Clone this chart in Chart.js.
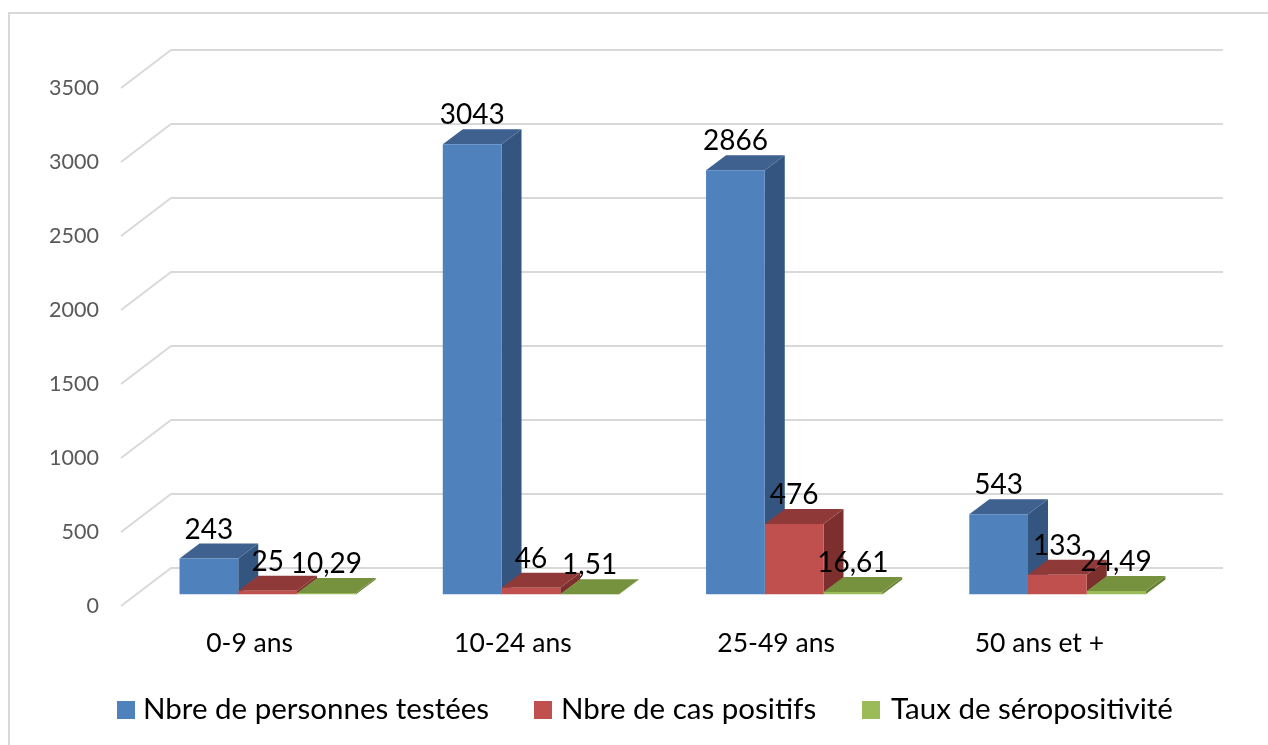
<!DOCTYPE html>
<html><head><meta charset="utf-8">
<style>html,body{margin:0;padding:0;background:#fff}canvas{display:block}</style>
<script src="https://cdn.jsdelivr.net/npm/chart.js@4"></script>
</head><body><canvas id="c" width="1268" height="745"></canvas>
<script>
const categories = ["0-9 ans","10-24 ans","25-49 ans","50 ans et +"];
const testedLabel = "Nbre de personnes testées";
const positiveLabel = "Nbre de cas positifs";
const rateLabel = "Taux de séropositivité";
const tested = [243,3043,2866,543];
const positive = [25,46,476,133];
const rate = [10.29,1.51,16.61,24.49];
const FONT = "Lato, sans-serif";
const shades = [
  {front:"#4F81BD",top:"#3E6190",side:"#34557F"},
  {front:"#C0504D",top:"#8F3A38",side:"#7D2F2E"},
  {front:"#9BBB59",top:"#77923F",side:"#6A8235"}
];
const legendBoxes = [117,534,862];
const legendTexts = [143,561,891];
const depth = {dx:20,dy:15};
const wall = {dx:35,dy:26.5,fdx:15,fdy:11.5};

const threeD = {
  id:"threeD",
  beforeDraw(ch){
    const c=ch.ctx;
    c.save();c.strokeStyle="#D9D9D9";c.lineWidth=2;
    c.beginPath();c.moveTo(9,745);c.lineTo(9,13);c.lineTo(1268,13);c.stroke();
    c.restore();
  },
  beforeDatasetsDraw(ch){
    const c=ch.ctx,a=ch.chartArea,y=ch.scales.y;
    c.save();
    c.strokeStyle="#D9D9D9";c.lineWidth=2;c.lineJoin="round";
    y.ticks.forEach(t=>{
      const p=y.getPixelForValue(t.value);
      c.beginPath();
      c.moveTo(a.left-wall.fdx,p+wall.fdy);
      c.lineTo(a.left+wall.dx,p-wall.dy);
      c.lineTo(a.right+wall.dx-1,p-wall.dy);
      c.stroke();
    });
    categories.forEach((_,i)=>{
      ch.data.datasets.forEach((d,s)=>{
        const b=ch.getDatasetMeta(s).data[i];
        const l=b.x-b.width/2,r=b.x+b.width/2,t=b.y,bt=b.base;
        c.fillStyle=shades[s].side;
        c.beginPath();c.moveTo(r,t);c.lineTo(r+depth.dx,t-depth.dy);c.lineTo(r+depth.dx,bt-depth.dy);c.lineTo(r,bt);c.closePath();c.fill();
        c.fillStyle=shades[s].top;
        c.beginPath();c.moveTo(l,t);c.lineTo(l+depth.dx,t-depth.dy);c.lineTo(r+depth.dx,t-depth.dy);c.lineTo(r,t);c.closePath();c.fill();
      });
    });
    c.restore();
  },
  afterDraw(ch){
    const c=ch.ctx;
    c.save();
    c.fillStyle="#000";c.textAlign="center";c.textBaseline="middle";
    c.font="28px "+FONT;
    ch.data.datasets.forEach((d,s)=>{
      ch.getDatasetMeta(s).data.forEach((b,i)=>{
        c.fillText(String(d.data[i]).replace(".",","),b.x,b.y-29);
      });
    });
    c.textAlign="left";
    c.font="29.5px "+FONT;
    ch.data.datasets.forEach((d,s)=>{
      c.fillStyle=shades[s].front;
      c.fillRect(legendBoxes[s],701,18,18);
      c.fillStyle="#000";
      c.fillText(d.label,legendTexts[s],709);
    });
    c.restore();
  }
};

new Chart(document.getElementById("c"),{
  type:"bar",
  data:{labels:categories,datasets:[
    {label:testedLabel,data:tested,backgroundColor:shades[0].front},
    {label:positiveLabel,data:positive,backgroundColor:shades[1].front},
    {label:rateLabel,data:rate,backgroundColor:shades[2].front}
  ]},
  options:{
    responsive:false,animation:false,
    layout:{padding:{top:76.5,right:79,left:0,bottom:0}},
    datasets:{bar:{categoryPercentage:176/263,barPercentage:1,borderWidth:0}},
    plugins:{legend:{display:false},tooltip:{enabled:false}},
    scales:{
      x:{
        grid:{display:false,drawTicks:false},border:{display:false},
        afterFit(s){s.height=150.5;},
        ticks:{color:"#000",font:{family:FONT,size:26.5},padding:33,labelOffset:-18,maxRotation:0,autoSkip:false}
      },
      y:{
        min:0,max:3500,
        grid:{display:false,drawTicks:false},border:{display:false},
        afterFit(s){s.width=136;},
        ticks:{stepSize:500,color:"#595959",font:{family:FONT,size:21.5},padding:37,labelOffset:12,callback:v=>String(v)}
      }
    }
  },
  plugins:[threeD]
});
</script></body></html>
